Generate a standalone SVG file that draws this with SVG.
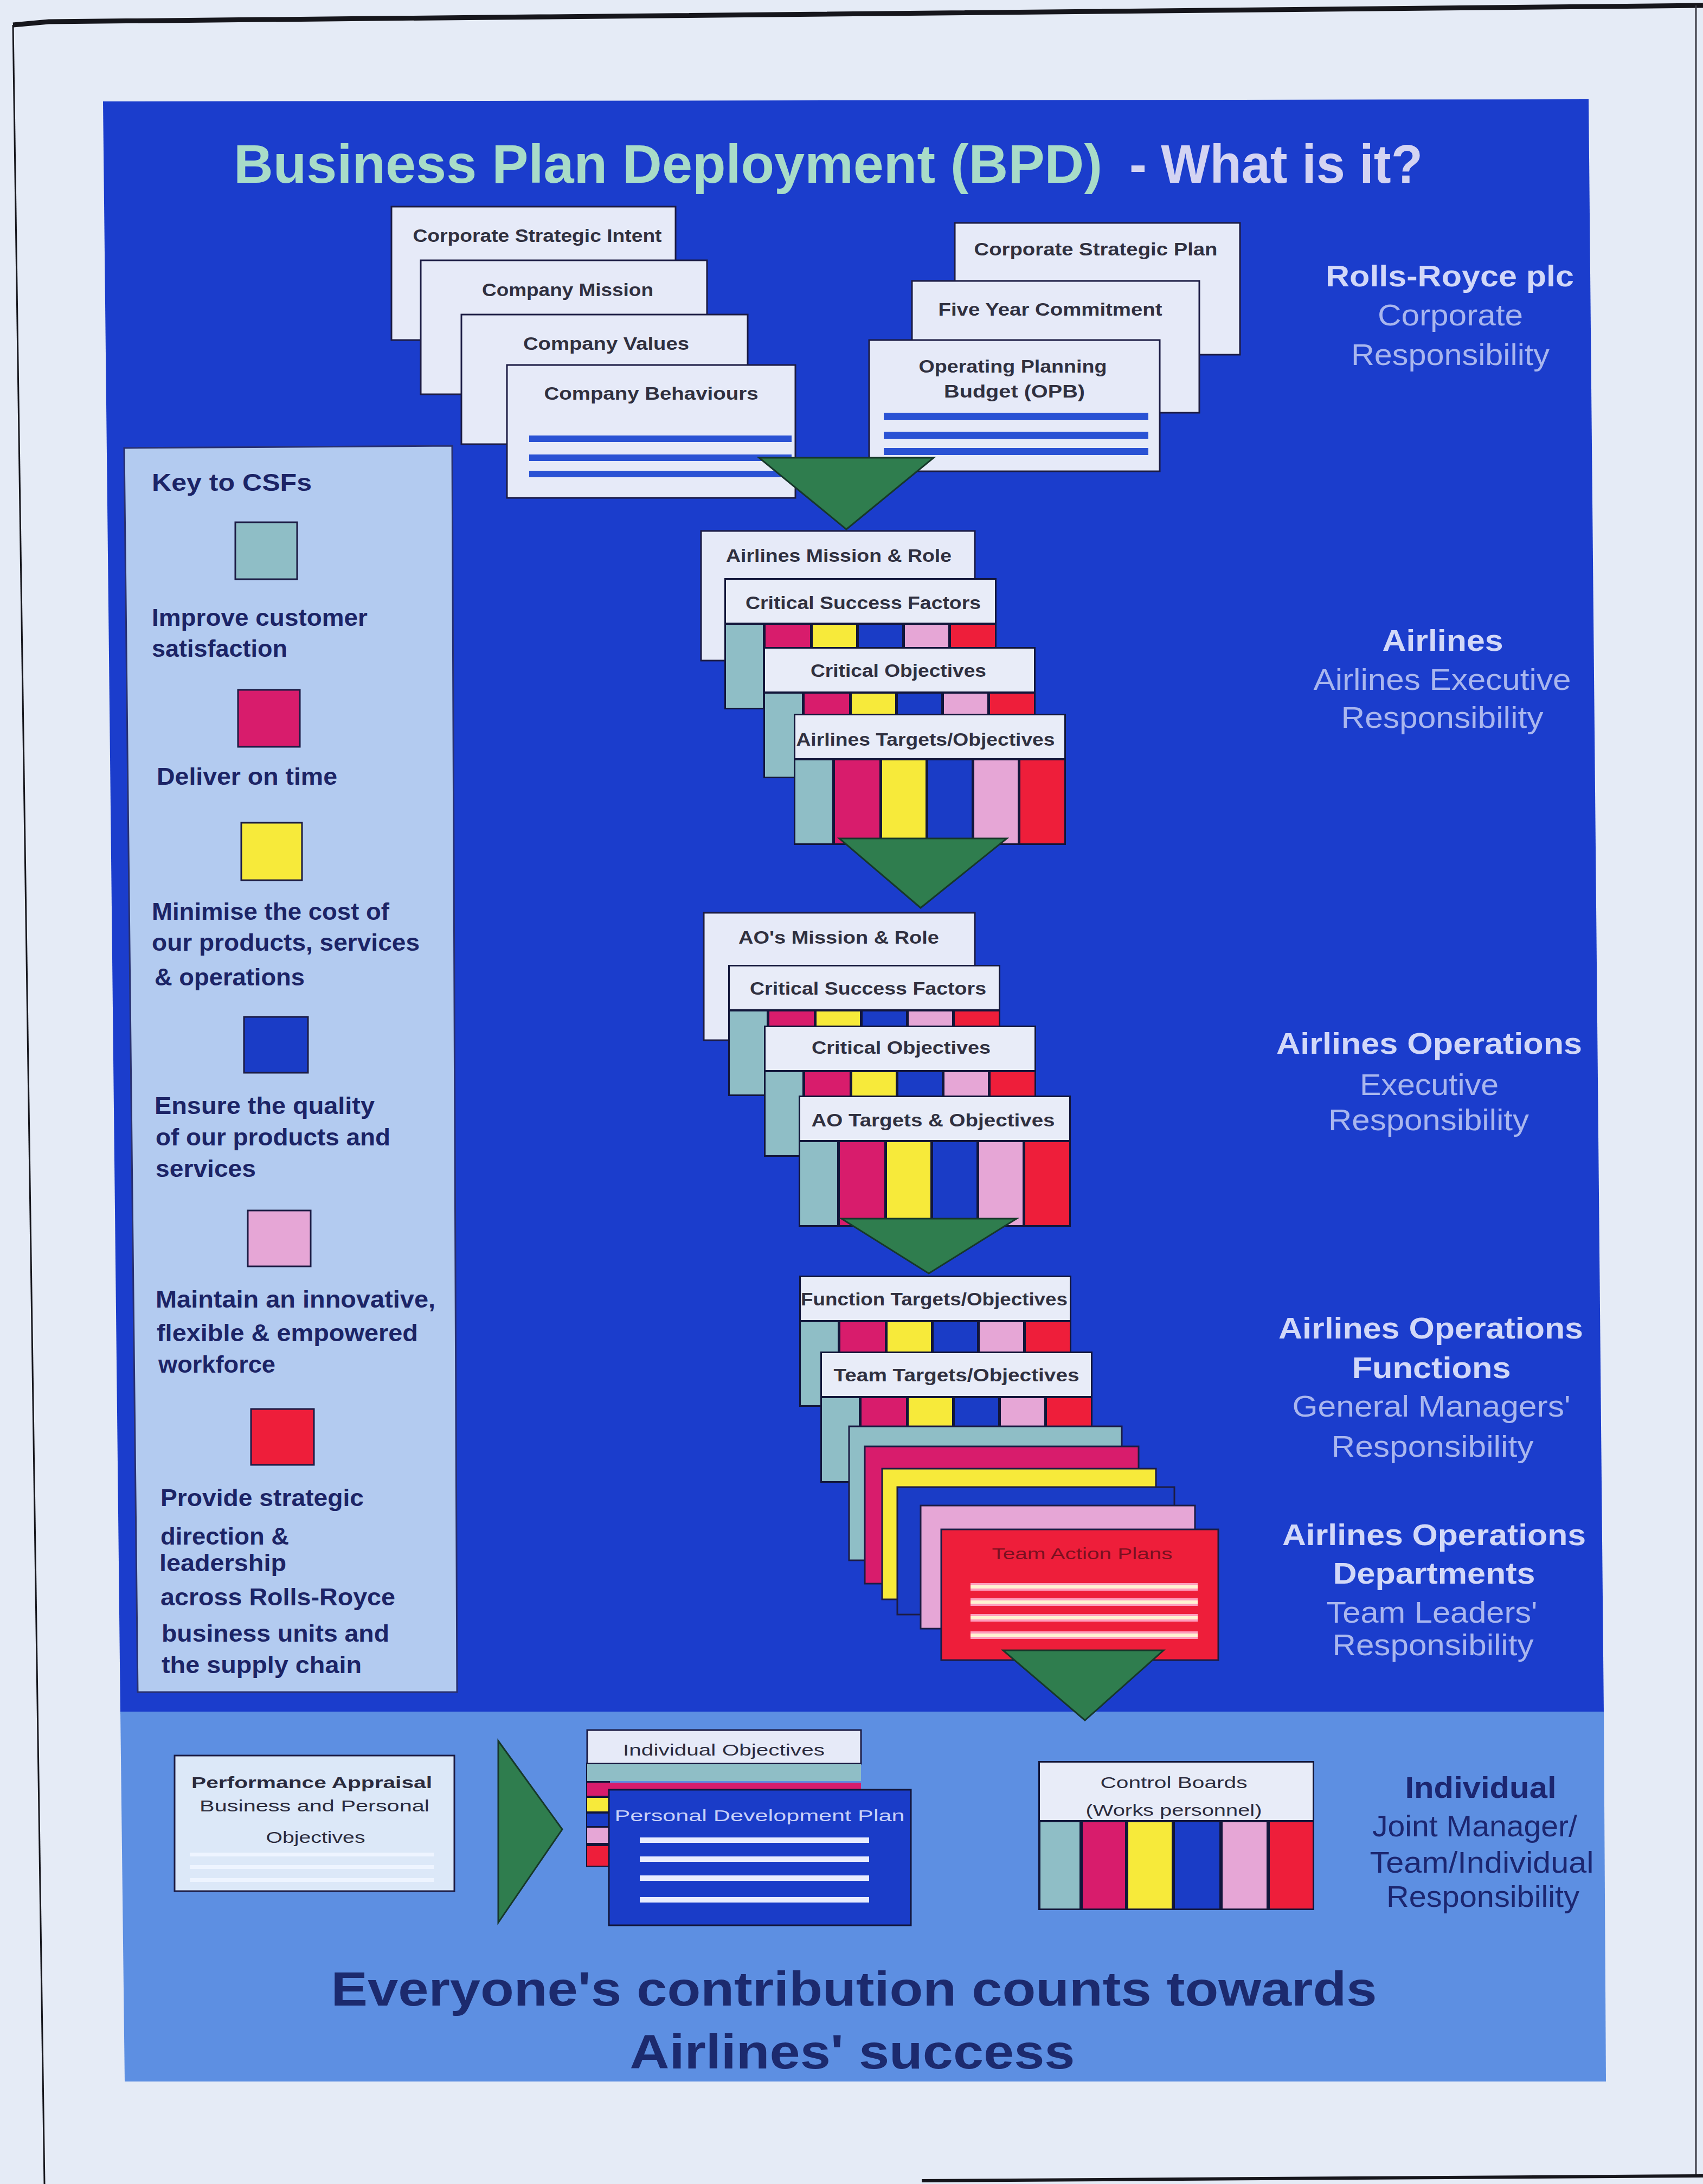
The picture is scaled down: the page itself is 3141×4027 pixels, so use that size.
<svg xmlns="http://www.w3.org/2000/svg" xmlns:xlink="http://www.w3.org/1999/xlink" width="3141" height="4027" viewBox="0 0 3141 4027">
  <style>
    text { font-family: "Liberation Sans", Arial, "DejaVu Sans", sans-serif; }
    .lbl { font-size: 34px; font-weight: bold; fill: #30303f; text-anchor: middle; }
    .key { font-size: 44px; font-weight: bold; fill: #1c2466; }
    .lvl { font-size: 56px; fill: #a9b6ee; text-anchor: middle; }
    .lvlb { font-weight: bold; fill: #d2d8f8; }
    .ind { font-size: 56px; fill: #1c2670; text-anchor: middle; }
    .card { fill: #e6eaf8; stroke: #1c1c44; stroke-width: 3; }
    .sw { stroke: #1c1c44; stroke-width: 3; }
    .teal { fill: #8fbec6; }
    .mag { fill: #d81c6c; }
    .yel { fill: #f7ea3a; }
    .blu { fill: #1a3cc6; }
    .pnk { fill: #e6a6d6; }
    .red { fill: #ee1e3a; }
    .stripe { fill: #2a52d4; }
    .arrow { fill: #2f7d4e; stroke: #17382a; stroke-width: 3; }
  </style>
  <defs>
    <!-- card with white header and six CSF colour columns -->
    <g id="csf-card">
      <rect width="502" height="242" fill="#12163a"/>
      <rect x="3" y="3" width="496" height="79" fill="#e8ecf8"/>
      <rect x="3" y="86" width="68" height="153" class="teal"/>
      <rect x="76" y="86" width="82" height="153" class="mag"/>
      <rect x="163" y="86" width="80" height="153" class="yel"/>
      <rect x="248" y="86" width="80" height="153" class="blu"/>
      <rect x="333" y="86" width="80" height="153" class="pnk"/>
      <rect x="418" y="86" width="81" height="153" class="red"/>
    </g>
  </defs>

  <!-- page -->
  <rect width="3141" height="4027" fill="#e5ebf6"/>
  <polyline points="24,46 90,40 3141,10" fill="none" stroke="#16161c" stroke-width="9"/>
  <line x1="24" y1="46" x2="82" y2="4027" stroke="#16161c" stroke-width="3"/>
  <line x1="3128" y1="10" x2="3128" y2="4012" stroke="#3a3a44" stroke-width="3"/>
  <line x1="1700" y1="4021" x2="3141" y2="4012" stroke="#16161c" stroke-width="6"/>

  <!-- background panels -->
  <polygon id="panel-main" points="190,187 2930,183 2958,3158 222,3160" fill="#1b3dcc"/>
  <polygon id="panel-individual" points="222,3156 2958,3156 2962,3838 230,3838" fill="#5d8fe2"/>

  <!-- title -->
  <g id="title" font-weight="bold">
    <text x="431" y="337" font-size="100" fill="#a8dcc8" textLength="1602" lengthAdjust="spacingAndGlyphs">Business Plan Deployment (BPD)</text>
    <text x="2083" y="337" font-size="100" fill="#d4d4f2" textLength="541" lengthAdjust="spacingAndGlyphs">- What is it?</text>
  </g>

  <!-- key to CSFs -->
  <g id="key">
    <polygon points="229,826 834,822 843,3120 254,3120" fill="#b3cbf0" stroke="#283070" stroke-width="3"/>
    <text class="key" x="280" y="905" textLength="295" lengthAdjust="spacingAndGlyphs">Key to CSFs</text>
    <rect x="434" y="963" width="114" height="105" class="sw teal"/>
    <text class="key" x="280" y="1154" textLength="398" lengthAdjust="spacingAndGlyphs">Improve customer</text>
    <text class="key" x="280" y="1211" textLength="250" lengthAdjust="spacingAndGlyphs">satisfaction</text>
    <rect x="439" y="1272" width="114" height="105" class="sw mag"/>
    <text class="key" x="289" y="1447" textLength="333" lengthAdjust="spacingAndGlyphs">Deliver on time</text>
    <rect x="445" y="1517" width="112" height="106" class="sw yel"/>
    <text class="key" x="280" y="1696" textLength="438" lengthAdjust="spacingAndGlyphs">Minimise the cost of</text>
    <text class="key" x="280" y="1753" textLength="494" lengthAdjust="spacingAndGlyphs">our products, services</text>
    <text class="key" x="285" y="1817" textLength="277" lengthAdjust="spacingAndGlyphs">&amp; operations</text>
    <rect x="450" y="1875" width="118" height="103" class="sw blu"/>
    <text class="key" x="285" y="2054" textLength="406" lengthAdjust="spacingAndGlyphs">Ensure the quality</text>
    <text class="key" x="287" y="2112" textLength="433" lengthAdjust="spacingAndGlyphs">of our products and</text>
    <text class="key" x="287" y="2170" textLength="185" lengthAdjust="spacingAndGlyphs">services</text>
    <rect x="457" y="2232" width="116" height="103" class="sw pnk"/>
    <text class="key" x="287" y="2411" textLength="516" lengthAdjust="spacingAndGlyphs">Maintain an innovative,</text>
    <text class="key" x="289" y="2473" textLength="482" lengthAdjust="spacingAndGlyphs">flexible &amp; empowered</text>
    <text class="key" x="292" y="2531" textLength="216" lengthAdjust="spacingAndGlyphs">workforce</text>
    <rect x="463" y="2598" width="116" height="103" class="sw red"/>
    <text class="key" x="296" y="2777" textLength="375" lengthAdjust="spacingAndGlyphs">Provide strategic</text>
    <text class="key" x="296" y="2848" textLength="237" lengthAdjust="spacingAndGlyphs">direction &amp;</text>
    <text class="key" x="294" y="2897" font-size="32" textLength="234" lengthAdjust="spacingAndGlyphs">leadership</text>
    <text class="key" x="296" y="2960" textLength="433" lengthAdjust="spacingAndGlyphs">across Rolls-Royce</text>
    <text class="key" x="298" y="3027" textLength="420" lengthAdjust="spacingAndGlyphs">business units and</text>
    <text class="key" x="298" y="3085" textLength="369" lengthAdjust="spacingAndGlyphs">the supply chain</text>
  </g>

  <!-- corporate level: left stack -->
  <g id="corporate-strategic-intent">
    <rect x="722" y="381" width="524" height="246" class="card"/>
    <text class="lbl" x="991" y="446" textLength="459" lengthAdjust="spacingAndGlyphs">Corporate Strategic Intent</text>
  </g>
  <g id="company-mission">
    <rect x="776" y="480" width="528" height="247" class="card"/>
    <text class="lbl" x="1047" y="546" textLength="316" lengthAdjust="spacingAndGlyphs">Company Mission</text>
  </g>
  <g id="company-values">
    <rect x="851" y="580" width="528" height="239" class="card"/>
    <text class="lbl" x="1118" y="645" textLength="306" lengthAdjust="spacingAndGlyphs">Company Values</text>
  </g>
  <g id="company-behaviours">
    <rect x="935" y="673" width="532" height="245" class="card"/>
    <text class="lbl" x="1201" y="737" textLength="395" lengthAdjust="spacingAndGlyphs">Company Behaviours</text>
    <rect x="976" y="803" width="484" height="12" class="stripe"/>
    <rect x="976" y="838" width="484" height="12" class="stripe"/>
    <rect x="976" y="868" width="484" height="12" class="stripe"/>
  </g>

  <!-- corporate level: right stack -->
  <g id="corporate-strategic-plan">
    <rect x="1761" y="411" width="526" height="243" class="card"/>
    <text class="lbl" x="2021" y="471" textLength="449" lengthAdjust="spacingAndGlyphs">Corporate Strategic Plan</text>
  </g>
  <g id="five-year-commitment">
    <rect x="1682" y="518" width="530" height="243" class="card"/>
    <text class="lbl" x="1937" y="582" textLength="413" lengthAdjust="spacingAndGlyphs">Five Year Commitment</text>
  </g>
  <g id="operating-planning-budget">
    <rect x="1603" y="627" width="536" height="242" class="card"/>
    <text class="lbl" x="1868" y="687" textLength="347" lengthAdjust="spacingAndGlyphs">Operating Planning</text>
    <text class="lbl" x="1871" y="733" textLength="260" lengthAdjust="spacingAndGlyphs">Budget (OPB)</text>
    <rect x="1630" y="761" width="488" height="13" class="stripe"/>
    <rect x="1630" y="796" width="488" height="13" class="stripe"/>
    <rect x="1630" y="826" width="488" height="13" class="stripe"/>
  </g>

  <!-- airlines level -->
  <g id="airlines-mission">
    <rect x="1293" y="979" width="505" height="239" class="card"/>
    <text class="lbl" x="1547" y="1036" textLength="416" lengthAdjust="spacingAndGlyphs">Airlines Mission &amp; Role</text>
  </g>
  <g id="airlines-csf">
    <use xlink:href="#csf-card" x="1336" y="1066"/>
    <text class="lbl" x="1592" y="1123" textLength="434" lengthAdjust="spacingAndGlyphs">Critical Success Factors</text>
  </g>
  <g id="airlines-critical-objectives">
    <use xlink:href="#csf-card" x="1408" y="1193"/>
    <text class="lbl" x="1657" y="1248" textLength="324" lengthAdjust="spacingAndGlyphs">Critical Objectives</text>
  </g>
  <g id="airlines-targets">
    <use xlink:href="#csf-card" x="1464" y="1316"/>
    <text class="lbl" x="1707" y="1375" textLength="477" lengthAdjust="spacingAndGlyphs">Airlines Targets/Objectives</text>
  </g>

  <!-- airlines operations level -->
  <g id="ao-mission">
    <rect x="1298" y="1683" width="500" height="235" class="card"/>
    <text class="lbl" x="1547" y="1740" textLength="370" lengthAdjust="spacingAndGlyphs">AO's Mission &amp; Role</text>
  </g>
  <g id="ao-csf">
    <use xlink:href="#csf-card" x="1343" y="1779"/>
    <text class="lbl" x="1601" y="1834" textLength="436" lengthAdjust="spacingAndGlyphs">Critical Success Factors</text>
  </g>
  <g id="ao-critical-objectives">
    <use xlink:href="#csf-card" x="1409" y="1891"/>
    <text class="lbl" x="1662" y="1943" textLength="330" lengthAdjust="spacingAndGlyphs">Critical Objectives</text>
  </g>
  <g id="ao-targets">
    <use xlink:href="#csf-card" x="1473" y="2020"/>
    <text class="lbl" x="1721" y="2077" textLength="449" lengthAdjust="spacingAndGlyphs">AO Targets &amp; Objectives</text>
  </g>

  <!-- functions and teams -->
  <g id="function-targets">
    <use xlink:href="#csf-card" x="1474" y="2352"/>
    <text class="lbl" x="1723" y="2407" textLength="492" lengthAdjust="spacingAndGlyphs">Function Targets/Objectives</text>
  </g>
  <g id="team-targets">
    <use xlink:href="#csf-card" x="1513" y="2492"/>
    <text class="lbl" x="1764" y="2547" textLength="453" lengthAdjust="spacingAndGlyphs">Team Targets/Objectives</text>
  </g>
  <g id="team-action-plans">
    <rect x="1566" y="2630" width="503" height="247" class="sw teal"/>
    <rect x="1595" y="2667" width="505" height="253" class="sw mag"/>
    <rect x="1627" y="2708" width="505" height="241" class="sw yel"/>
    <rect x="1655" y="2742" width="511" height="235" class="sw blu"/>
    <rect x="1698" y="2776" width="506" height="227" class="sw pnk"/>
    <rect x="1736" y="2820" width="511" height="241" class="sw red"/>
    <text x="1996" y="2875" font-size="30" fill="#7a1020" text-anchor="middle" textLength="333" lengthAdjust="spacingAndGlyphs">Team Action Plans</text>
    <g fill="#ff9cbc">
      <rect x="1790" y="2919" width="419" height="14"/>
      <rect x="1790" y="2947" width="419" height="14"/>
      <rect x="1790" y="2976" width="419" height="14"/>
      <rect x="1790" y="3008" width="419" height="14"/>
    </g>
    <g fill="#fff3d2">
      <rect x="1790" y="2923" width="419" height="6"/>
      <rect x="1790" y="2951" width="419" height="6"/>
      <rect x="1790" y="2980" width="419" height="6"/>
      <rect x="1790" y="3012" width="419" height="6"/>
    </g>
  </g>

  <!-- individual level -->
  <g id="performance-appraisal">
    <rect x="322" y="3237" width="516" height="250" fill="#dce8f8" stroke="#1c1c44" stroke-width="3"/>
    <text x="575" y="3297" font-size="30" font-weight="bold" fill="#2b2b3d" text-anchor="middle" textLength="444" lengthAdjust="spacingAndGlyphs">Performance Appraisal</text>
    <text x="580" y="3340" font-size="30" fill="#2b2b3d" text-anchor="middle" textLength="424" lengthAdjust="spacingAndGlyphs">Business and Personal</text>
    <text x="582" y="3398" font-size="30" fill="#2b2b3d" text-anchor="middle" textLength="183" lengthAdjust="spacingAndGlyphs">Objectives</text>
    <g fill="#eef4ff">
      <rect x="350" y="3416" width="450" height="7"/>
      <rect x="350" y="3439" width="450" height="7"/>
      <rect x="350" y="3463" width="450" height="7"/>
    </g>
  </g>
  <g id="individual-objectives">
    <rect x="1081" y="3250" width="44" height="192" fill="#12163a"/>
    <rect x="1083" y="3190" width="505" height="62" class="card"/>
    <text x="1335" y="3237" font-size="30" fill="#2b2b3d" text-anchor="middle" textLength="372" lengthAdjust="spacingAndGlyphs">Individual Objectives</text>
    <rect x="1083" y="3253" width="505" height="31" class="teal"/>
    <rect x="1083" y="3287" width="505" height="24" class="mag"/>
    <rect x="1083" y="3315" width="40" height="25" class="yel"/>
    <rect x="1083" y="3344" width="40" height="23" class="blu"/>
    <rect x="1083" y="3370" width="40" height="28" class="pnk"/>
    <rect x="1083" y="3404" width="40" height="36" class="red"/>
  </g>
  <g id="personal-development-plan">
    <rect x="1123" y="3300" width="557" height="250" fill="#1a3cc8" stroke="#12163a" stroke-width="3"/>
    <text x="1401" y="3358" font-size="30" fill="#c8d0f8" text-anchor="middle" textLength="535" lengthAdjust="spacingAndGlyphs">Personal Development Plan</text>
    <g fill="#e8ecff">
      <rect x="1180" y="3388" width="423" height="10"/>
      <rect x="1180" y="3423" width="423" height="10"/>
      <rect x="1180" y="3458" width="423" height="10"/>
      <rect x="1180" y="3498" width="423" height="10"/>
    </g>
  </g>
  <g id="control-boards">
    <rect x="1915" y="3247" width="509" height="275" fill="#12163a"/>
    <rect x="1918" y="3250" width="503" height="106" fill="#e8ecf8"/>
    <text x="2165" y="3297" font-size="30" fill="#2b2b3d" text-anchor="middle" textLength="271" lengthAdjust="spacingAndGlyphs">Control Boards</text>
    <text x="2165" y="3348" font-size="30" fill="#2b2b3d" text-anchor="middle" textLength="325" lengthAdjust="spacingAndGlyphs">(Works personnel)</text>
    <rect x="1919" y="3360" width="72" height="159" class="teal"/>
    <rect x="1997" y="3360" width="78" height="159" class="mag"/>
    <rect x="2081" y="3360" width="80" height="159" class="yel"/>
    <rect x="2167" y="3360" width="82" height="159" class="blu"/>
    <rect x="2255" y="3360" width="81" height="159" class="pnk"/>
    <rect x="2342" y="3360" width="79" height="159" class="red"/>
  </g>

  <!-- responsibility labels -->
  <g id="label-corporate">
    <text class="lvl lvlb" x="2674" y="528" textLength="458" lengthAdjust="spacingAndGlyphs">Rolls-Royce plc</text>
    <text class="lvl" x="2675" y="600" textLength="268" lengthAdjust="spacingAndGlyphs">Corporate</text>
    <text class="lvl" x="2675" y="673" textLength="366" lengthAdjust="spacingAndGlyphs">Responsibility</text>
  </g>
  <g id="label-airlines">
    <text class="lvl lvlb" x="2661" y="1200" textLength="223" lengthAdjust="spacingAndGlyphs">Airlines</text>
    <text class="lvl" x="2660" y="1272" textLength="475" lengthAdjust="spacingAndGlyphs">Airlines Executive</text>
    <text class="lvl" x="2660" y="1342" textLength="373" lengthAdjust="spacingAndGlyphs">Responsibility</text>
  </g>
  <g id="label-ao">
    <text class="lvl lvlb" x="2636" y="1943" textLength="564" lengthAdjust="spacingAndGlyphs">Airlines Operations</text>
    <text class="lvl" x="2636" y="2019" textLength="256" lengthAdjust="spacingAndGlyphs">Executive</text>
    <text class="lvl" x="2635" y="2084" textLength="370" lengthAdjust="spacingAndGlyphs">Responsibility</text>
  </g>
  <g id="label-functions">
    <text class="lvl lvlb" x="2639" y="2468" textLength="562" lengthAdjust="spacingAndGlyphs">Airlines Operations</text>
    <text class="lvl lvlb" x="2640" y="2541" textLength="293" lengthAdjust="spacingAndGlyphs">Functions</text>
    <text class="lvl" x="2640" y="2612" textLength="513" lengthAdjust="spacingAndGlyphs">General Managers'</text>
    <text class="lvl" x="2642" y="2686" textLength="373" lengthAdjust="spacingAndGlyphs">Responsibility</text>
  </g>
  <g id="label-departments">
    <text class="lvl lvlb" x="2645" y="2849" textLength="560" lengthAdjust="spacingAndGlyphs">Airlines Operations</text>
    <text class="lvl lvlb" x="2645" y="2920" textLength="373" lengthAdjust="spacingAndGlyphs">Departments</text>
    <text class="lvl" x="2641" y="2992" textLength="389" lengthAdjust="spacingAndGlyphs">Team Leaders'</text>
    <text class="lvl" x="2643" y="3052" textLength="371" lengthAdjust="spacingAndGlyphs">Responsibility</text>
  </g>
  <g id="label-individual">
    <text class="ind" x="2731" y="3315" font-weight="bold" textLength="279" lengthAdjust="spacingAndGlyphs">Individual</text>
    <text class="ind" x="2720" y="3386" textLength="378" lengthAdjust="spacingAndGlyphs">Joint Manager/</text>
    <text class="ind" x="2733" y="3453" textLength="413" lengthAdjust="spacingAndGlyphs">Team/Individual</text>
    <text class="ind" x="2735" y="3516" textLength="356" lengthAdjust="spacingAndGlyphs">Responsibility</text>
  </g>

  <!-- closing statement -->
  <g id="tagline" font-size="89" font-weight="bold" fill="#1c2a6e" text-anchor="middle">
    <text x="1575" y="3698" textLength="1929" lengthAdjust="spacingAndGlyphs">Everyone's contribution counts towards</text>
    <text x="1572" y="3814" textLength="821" lengthAdjust="spacingAndGlyphs">Airlines' success</text>
  </g>

  <!-- flow arrows between levels -->
  <g id="connectors">
    <polygon class="arrow" points="1400,844 1722,844 1561,976"/>
    <polygon class="arrow" points="1548,1546 1857,1546 1698,1674"/>
    <polygon class="arrow" points="1552,2247 1875,2247 1713,2348"/>
    <polygon class="arrow" points="1850,3043 2146,3043 2001,3172"/>
    <polygon class="arrow" points="919,3210 1037,3373 919,3545"/>
  </g>
</svg>
